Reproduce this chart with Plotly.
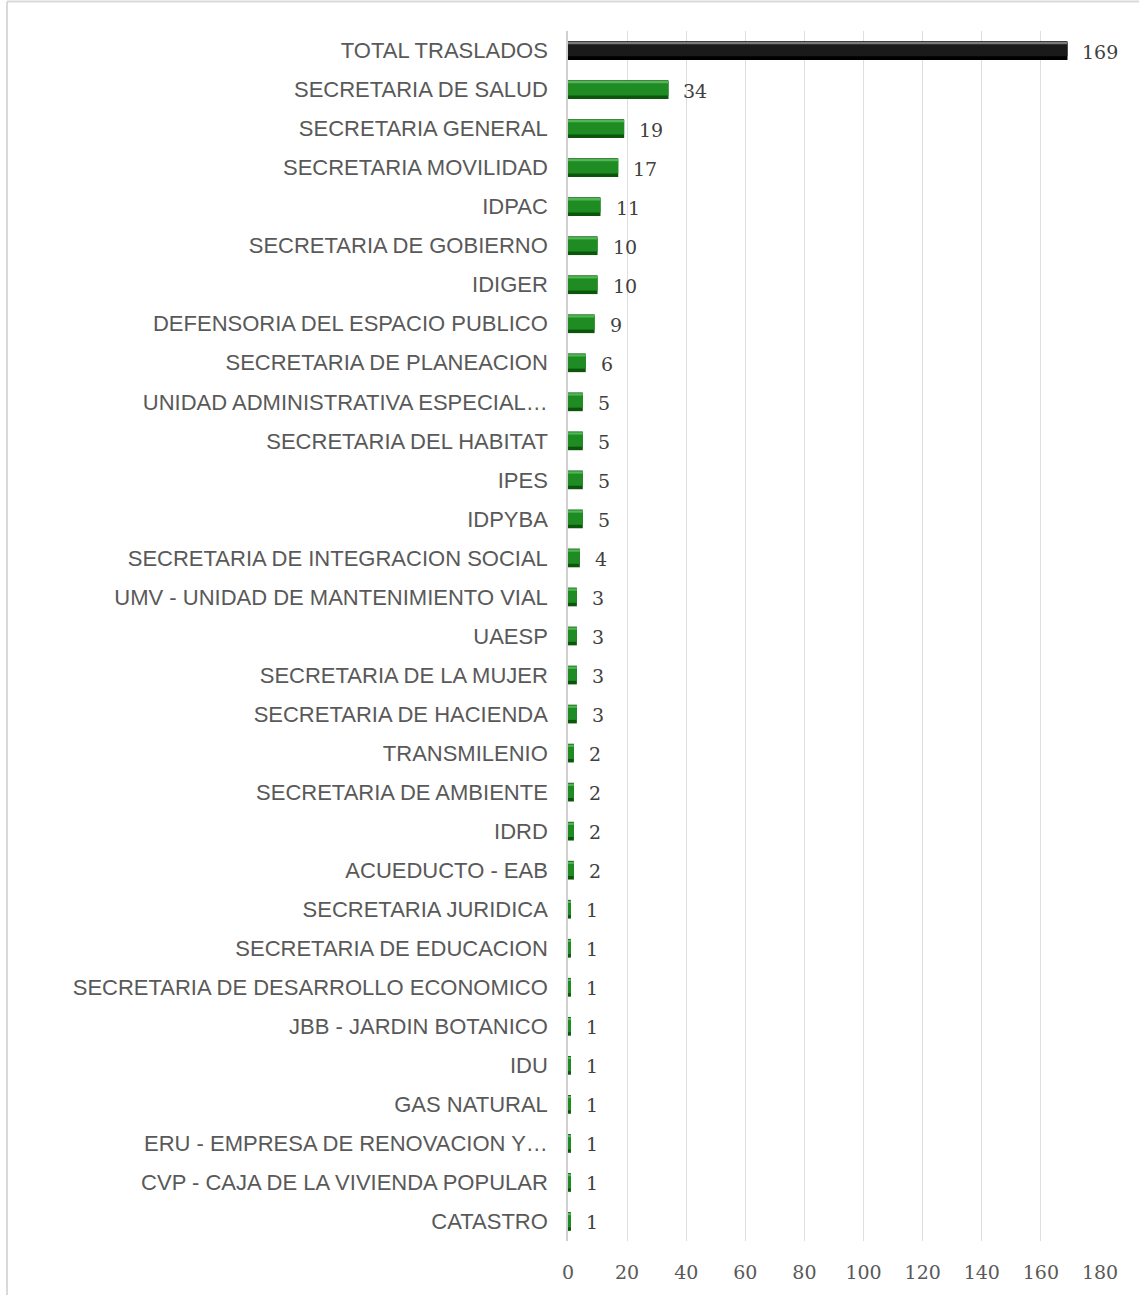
import plotly.graph_objects as go

categories = [
    "TOTAL TRASLADOS", "SECRETARIA DE SALUD", "SECRETARIA GENERAL", "SECRETARIA MOVILIDAD",
    "IDPAC", "SECRETARIA DE GOBIERNO", "IDIGER", "DEFENSORIA DEL ESPACIO PUBLICO",
    "SECRETARIA DE PLANEACION", "UNIDAD ADMINISTRATIVA ESPECIAL…", "SECRETARIA DEL HABITAT",
    "IPES", "IDPYBA", "SECRETARIA DE INTEGRACION SOCIAL", "UMV - UNIDAD DE MANTENIMIENTO VIAL",
    "UAESP", "SECRETARIA DE LA MUJER", "SECRETARIA DE HACIENDA", "TRANSMILENIO",
    "SECRETARIA DE AMBIENTE", "IDRD", "ACUEDUCTO - EAB", "SECRETARIA JURIDICA",
    "SECRETARIA DE EDUCACION", "SECRETARIA DE DESARROLLO ECONOMICO", "JBB - JARDIN BOTANICO",
    "IDU", "GAS NATURAL", "ERU - EMPRESA DE RENOVACION Y…", "CVP - CAJA DE LA VIVIENDA POPULAR",
    "CATASTRO",
]
values = [169, 34, 19, 17, 11, 10, 10, 9, 6, 5, 5, 5, 5, 4, 3, 3, 3, 3, 2, 2, 2, 2,
          1, 1, 1, 1, 1, 1, 1, 1, 1]
x_ticks = [0, 20, 40, 60, 80, 100, 120, 140, 160, 180]

is_total = [c == "TOTAL TRASLADOS" for c in categories]
base_col = ["#000000" if t else "#0c560c" for t in is_total]
mid_col = ["#1a1a1a" if t else "#1f8b23" for t in is_total]
hi_col = ["#7a7a7a" if t else "#4fb853" for t in is_total]

fig = go.Figure()
# base (dark edge) bar
fig.add_trace(go.Bar(y=categories, x=values, orientation="h", width=0.48, offset=-0.24,
                     marker=dict(color=base_col, line=dict(width=0)), showlegend=False,
                     hoverinfo="x+y"))
# middle body
fig.add_trace(go.Bar(y=categories, x=values, orientation="h", width=0.36, offset=-0.21,
                     marker=dict(color=mid_col, line=dict(width=0)), showlegend=False,
                     hoverinfo="skip"))
# top highlight
fig.add_trace(go.Bar(y=categories, x=values, orientation="h", width=0.06, offset=-0.22,
                     marker=dict(color=hi_col, line=dict(width=0)), showlegend=False,
                     hoverinfo="skip"))

for c, v in zip(categories, values):
    fig.add_annotation(x=v, y=c, text=str(v), showarrow=False, xanchor="left",
                       xshift=13, yshift=-1,
                       font=dict(family="DejaVu Serif", size=19, color="#404040"))

fig.update_layout(
    width=1139, height=1295,
    margin=dict(l=568, r=39, t=31, b=54),
    paper_bgcolor="white", plot_bgcolor="white",
    barmode="overlay",
    showlegend=False,
    xaxis=dict(range=[0, 180], tickvals=x_ticks, showgrid=True, gridcolor="#dedede",
               gridwidth=1.2, zeroline=False, showline=False, ticks="",
               ticklabelstandoff=18,
               tickfont=dict(family="DejaVu Serif", size=19, color="#595959")),
    yaxis=dict(autorange="reversed", showgrid=False, zeroline=False, showline=True,
               linecolor="#d0d0d0", linewidth=1.5, ticks="", ticklabelstandoff=14,
               tickfont=dict(family="Liberation Sans", size=22, color="#595959")),
    shapes=[
        dict(type="line", xref="paper", yref="paper", x0=-1.0545, x1=1.1, y0=1.0244, y1=1.0244,
             line=dict(color="#d9d9d9", width=2)),
        dict(type="line", xref="paper", yref="paper", x0=-1.0545, x1=-1.0545, y0=1.0244, y1=-0.05,
             line=dict(color="#d9d9d9", width=2)),
    ],
)

fig.write_html("out.html", config={"displayModeBar": False},
               post_script="document.body.style.margin='0';")
